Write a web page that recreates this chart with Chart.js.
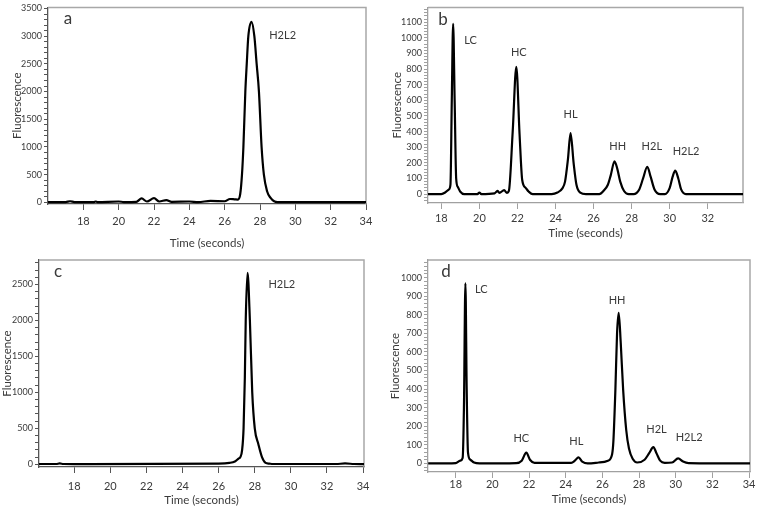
<!DOCTYPE html>
<html>
<head>
<meta charset="utf-8">
<script src="https://cdn.jsdelivr.net/npm/chart.js@4/dist/chart.umd.min.js"></script>
<style>
  body { margin: 0; background: #fff; width: 758px; height: 513px; position: relative; overflow: hidden; }
  canvas { position: absolute; }
  #chart-a { left: 0; top: 0; }
  #chart-b { left: 380px; top: 0; }
  #chart-c { left: 0; top: 252px; }
  #chart-d { left: 380px; top: 252px; }
</style>
</head>
<body>
<canvas id="chart-a" width="380" height="252"></canvas>
<canvas id="chart-b" width="378" height="252"></canvas>
<canvas id="chart-c" width="380" height="261"></canvas>
<canvas id="chart-d" width="378" height="261"></canvas>
<script>
const FONT = 'Lato, "Open Sans", sans-serif';
const TEXT_COLOR = '#3a3a3a';
const TRACE_COLOR = '#000';

// panel a
const timeA = [16.0, 17.0, 17.25, 17.5, 18.6, 18.7, 18.8, 20.0, 20.3, 21.0, 21.3, 21.6, 22.0, 22.3, 22.7, 23.0, 24.0, 24.5, 25.2, 26.0,
  26.3, 26.55, 26.75, 26.88, 26.98, 27.06, 27.17, 27.25, 27.34, 27.52, 27.68, 27.81, 27.94, 28.09, 28.22, 28.4, 28.6, 28.8, 29.0, 30.0, 34.0];
const fluorA = [5, 5, 20, 5, 5, 15, 5, 15, 5, 10, 70, 15, 75, 15, 40, 10, 15, 5, 25, 20,
  60, 55, 50, 150, 500, 1000, 2000, 2500, 3000, 3260, 3000, 2500, 2000, 1000, 500, 200, 80, 20, 5, 5, 5];
const peakNamesA = ['H2L2'];
const peakTimesA = [29.28];
const peakHeightsA = [3016];

// panel b
const timeB = [17.3, 18.0, 18.2, 18.4, 18.48, 18.55, 18.62, 18.7, 18.78, 18.87, 19.0, 19.2, 19.9, 20.0, 20.1, 20.8, 20.95, 21.05, 21.3, 21.45,
  21.55, 21.75, 21.94, 22.11, 22.25, 22.43, 22.6, 22.8, 23.8, 24.1, 24.35, 24.5, 24.65, 24.79, 24.95, 25.1, 25.3, 25.6, 26.3, 26.55,
  26.75, 26.9, 27.1, 27.25, 27.4, 27.6, 27.85, 28.1, 28.4, 28.6, 28.82, 29.0, 29.2, 29.5, 29.75, 30.0, 30.15, 30.29, 30.45, 30.6, 30.85, 33.85];
const fluorB = [0, 0, 10, 30, 60, 600, 1090, 600, 100, 45, 15, 0, 0, 10, 0, 5, 20, 8, 25, 8,
  20, 400, 815, 385, 90, 40, 15, 0, 0, 10, 35, 80, 220, 390, 200, 60, 10, 0, 0, 25,
  60, 120, 210, 160, 80, 20, 0, 0, 30, 100, 175, 110, 30, 0, 0, 40, 110, 150, 100, 30, 0, 0];
const peakNamesB = ['LC', 'HC', 'HL', 'HH', 'H2L', 'H2L2'];
const peakTimesB = [19.54, 22.07, 24.79, 27.27, 29.06, 30.86];
const peakHeightsB = [983, 905, 510, 304, 304, 275];

// panel c
const timeC = [16.05, 17.0, 17.2, 17.4, 18.0, 26.0, 26.6, 26.9, 27.1, 27.2, 27.3, 27.38, 27.45, 27.5, 27.6, 27.73, 27.86, 28.0, 28.2, 28.4,
  28.6, 28.8, 29.0, 32.5, 33.0, 33.5, 34.05];
const fluorC = [5, 5, 12, 5, 3, 10, 20, 40, 80, 100, 200, 500, 1200, 2000, 2660, 2000, 1000, 500, 280, 100,
  20, 10, 5, 5, 12, 5, 3];
const peakNamesC = ['H2L2'];
const peakTimesC = [29.5];
const peakHeightsC = [2502];

// panel d
const timeD = [16.5, 17.5, 18.0, 18.25, 18.38, 18.45, 18.53, 18.6, 18.67, 18.8, 19.0, 19.3, 21.3, 21.6, 21.85, 22.05, 22.3, 24.3, 24.5, 24.7,
  24.9, 25.2, 25.8, 26.3, 26.53, 26.6, 26.71, 26.8, 26.89, 27.0, 27.13, 27.3, 27.45, 27.65, 27.9, 28.3, 28.55, 28.78, 28.95, 29.15,
  29.4, 29.8, 30.13, 30.4, 30.7, 34.05];
const fluorD = [0, 0, 2, 15, 30, 300, 970, 400, 60, 20, 5, 0, 2, 15, 58, 20, 3, 3, 15, 33,
  10, 0, 5, 15, 50, 120, 400, 700, 810, 650, 400, 180, 80, 25, 5, 20, 55, 88, 55, 15,
  3, 5, 27, 10, 2, 0];
const peakNamesD = ['LC', 'HC', 'HL', 'HH', 'H2L', 'H2L2'];
const peakTimesD = [19.40, 21.58, 24.58, 26.80, 28.95, 30.73];
const peakHeightsD = [936, 136, 118, 878, 182, 140];

const xTickValues = [18, 20, 22, 24, 26, 28, 30, 32, 34];

// light frame on the top and right of the plot
const framePlugin = {
  id: 'frame',
  beforeDatasetsDraw(chart, args, opts) {
    const {ctx, chartArea: a} = chart;
    ctx.save();
    ctx.strokeStyle = '#a8a8a8';
    ctx.lineWidth = 1.5;
    ctx.beginPath();
    ctx.moveTo(a.left, a.top);
    ctx.lineTo(a.right, a.top);
    ctx.lineTo(a.right, a.bottom);
    ctx.stroke();
    ctx.restore();
  }
};

// panel letter and peak names
const labelsPlugin = {
  id: 'peakLabels',
  afterDatasetsDraw(chart, args, opts) {
    const {ctx, chartArea: a, scales} = chart;
    ctx.save();
    ctx.fillStyle = TEXT_COLOR;
    ctx.textAlign = 'center';
    ctx.textBaseline = 'middle';
    ctx.font = '17px ' + FONT;
    ctx.fillText(opts.letter, a.left + opts.letterDx, a.top + opts.letterDy);
    ctx.font = '11px ' + FONT;
    opts.names.forEach((name, i) => {
      ctx.fillText(name, scales.x.getPixelForValue(opts.times[i]), scales.y.getPixelForValue(opts.heights[i]));
    });
    ctx.restore();
  }
};

function makePanel(id, p) {
  const points = p.times.map((t, i) => ({x: t, y: p.values[i]}));
  const config = {
    type: 'line',
    data: {
      datasets: [{
        data: points,
        borderColor: TRACE_COLOR,
        borderWidth: 2.2,
        pointRadius: 0,
        cubicInterpolationMode: 'monotone',
        fill: false,
      }],
    },
    options: {
      responsive: false,
      animation: false,
      events: [],
      layout: { padding: { top: p.padTop, right: p.padRight, left: 0, bottom: 0 } },
      plugins: {
        legend: { display: false },
        tooltip: { enabled: false },
        peakLabels: {
          letter: p.letter, letterDx: p.letterDx, letterDy: p.letterDy,
          names: p.names, times: p.peakTimes, heights: p.peakHeights,
        },
      },
      scales: {
        x: {
          type: 'linear',
          min: p.xMin,
          max: p.xMax,
          afterFit: (s) => { s.height = p.xHeight; },
          afterBuildTicks: (s) => { s.ticks = xTickValues.filter(v => v >= p.xMin && v <= p.xMax).map(v => ({value: v})); },
          grid: { drawOnChartArea: false, tickLength: 6, tickColor: p.axisColor, tickWidth: 1 },
          border: { color: p.axisColor, width: 1.3 },
          ticks: {
            color: TEXT_COLOR,
            font: { family: FONT, size: 11 },
            padding: p.xTickPad,
            maxRotation: 0,
            autoSkip: false,
            callback: (v) => String(v),
          },
          title: {
            display: true,
            text: 'Time (seconds)',
            color: TEXT_COLOR,
            font: { family: FONT, size: 11.5 },
            padding: { top: 0, bottom: p.xTitlePad },
          },
        },
        y: {
          min: p.yMin,
          max: p.yMax,
          afterFit: (s) => { s.width = p.yWidth; },
          grid: { drawOnChartArea: false, tickLength: 4, tickColor: p.axisColor, tickWidth: 1 },
          border: { color: p.axisColor, width: 1.3 },
          ticks: {
            stepSize: p.minorStep,
            includeBounds: false,
            autoSkip: false,
            color: TEXT_COLOR,
            font: { family: FONT, size: 9 },
            padding: 2,
            callback: (v) => (v % p.majorStep === 0 ? String(v) : ''),
          },
          title: {
            display: true,
            text: 'Fluorescence',
            color: TEXT_COLOR,
            font: { family: FONT, size: 11.5 },
            padding: { top: p.yTitlePad, bottom: 0 },
          },
        },
      },
    },
    plugins: [framePlugin, labelsPlugin],
  };
  return new Chart(document.getElementById(id), config);
}

makePanel('chart-a', {
  times: timeA, values: fluorA, names: peakNamesA, peakTimes: peakTimesA, peakHeights: peakHeightsA,
  letter: 'a', letterDx: 20, letterDy: 11,
  xMin: 16, xMax: 34, yMin: -30, yMax: 3520, minorStep: 100, majorStep: 500,
  padTop: 6, padRight: 14, yWidth: 48, xHeight: 48, xTickPad: 5, xTitlePad: 2, yTitlePad: 10,
  axisColor: '#555',
});

makePanel('chart-b', {
  times: timeB, values: fluorB, names: peakNamesB, peakTimes: peakTimesB, peakHeights: peakHeightsB,
  letter: 'b', letterDx: 15, letterDy: 12,
  xMin: 17.3, xMax: 33.85, yMin: -57, yMax: 1195, minorStep: 20, majorStep: 100,
  padTop: 2, padRight: 15, yWidth: 48, xHeight: 49, xTickPad: 3, xTitlePad: 12, yTitlePad: 10,
  axisColor: '#a0a0a0',
});

makePanel('chart-c', {
  times: timeC, values: fluorC, names: peakNamesC, peakTimes: peakTimesC, peakHeights: peakHeightsC,
  letter: 'c', letterDx: 19, letterDy: 12,
  xMin: 16.05, xMax: 34.05, yMin: -37, yMax: 2840, minorStep: 100, majorStep: 500,
  padTop: 8, padRight: 16, yWidth: 39, xHeight: 46, xTickPad: 7, xTitlePad: 6, yTitlePad: 0,
  axisColor: '#555',
});

makePanel('chart-d', {
  times: timeD, values: fluorD, names: peakNamesD, peakTimes: peakTimesD, peakHeights: peakHeightsD,
  letter: 'd', letterDx: 18, letterDy: 12,
  xMin: 16.49, xMax: 34.05, yMin: -46, yMax: 1095, minorStep: 20, majorStep: 100,
  padTop: 8, padRight: 8, yWidth: 48, xHeight: 41, xTickPad: 0, xTitlePad: 7, yTitlePad: 8,
  axisColor: '#a0a0a0',
});
</script>
</body>
</html>
